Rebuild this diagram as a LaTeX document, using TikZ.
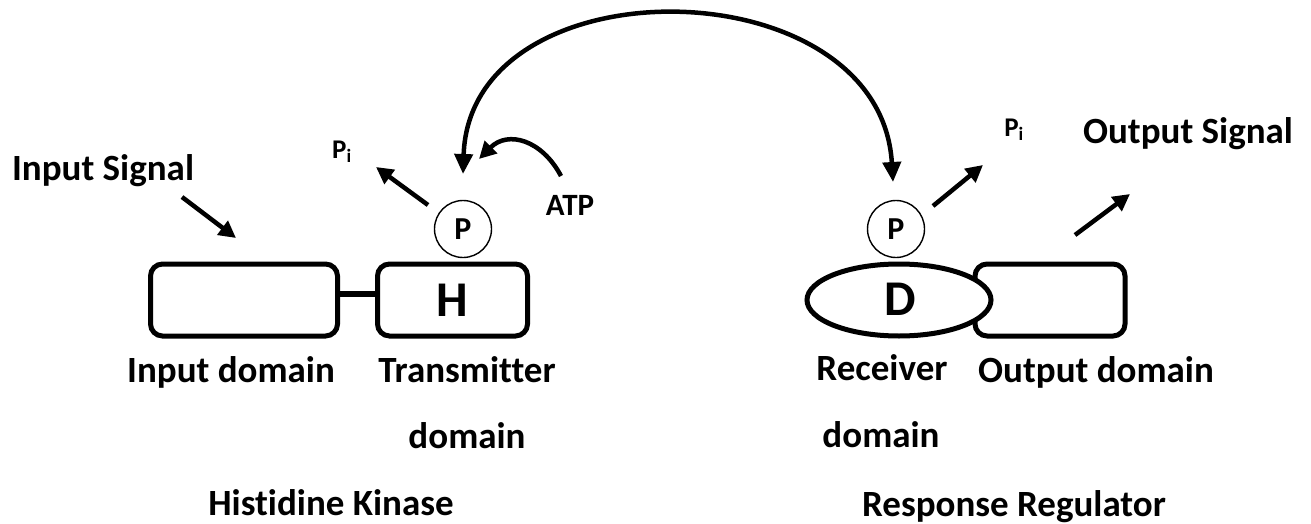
\documentclass[tikz,border=0pt]{standalone}
\usepackage{fontspec}
\setmainfont[Ligatures=NoCommon]{Carlito}
\usetikzlibrary{arrows.meta,shapes.geometric}
\begin{document}
\begin{tikzpicture}[x=1pt,y=-1pt,
  lbl/.style={font=\fontsize{37}{40}\selectfont\bfseries, inner sep=0pt, anchor=base},
  small/.style={font=\fontsize{#1}{#1}\selectfont\bfseries, inner sep=0pt, anchor=base},
  domainbox/.style={draw, line width=5pt, rounded corners=12pt, fill=white,
                    minimum width=#1, minimum height=72pt, inner sep=0pt},
  phos/.style={draw, circle, line width=1.4pt, fill=white, minimum size=57pt, inner sep=0pt,
               font=\fontsize{32}{32}\selectfont\bfseries},
  sig/.style={line width=4.5pt, -{Triangle[length=17pt,width=17pt]}},
  transfer/.style={line width=4.5pt, {Triangle[length=20pt,width=18pt]}-{Triangle[length=20pt,width=18pt]}},
]
\useasboundingbox (0,0) rectangle (1311,524);

% ---- histidine kinase ----
\node[domainbox=187pt] (inbox) at (244,300) {};
\node[domainbox=150pt] (txbox) at (452.5,300) {};
\node[small=50, anchor=base] (hres) at (452,316) {H};
\draw[line width=6pt] (inbox.east |- 0,293.5) coordinate (lnkA) -- (txbox.west |- 0,293.5) coordinate (lnkB);
\node[phos] (pH) at (463,229) {P};

% ---- response regulator ----
\node[domainbox=150pt] (outbox) at (1050,300) {};
\node[draw, ellipse, line width=5pt, fill=white, minimum width=184pt, minimum height=72pt,
      inner sep=0pt] (recv) at (899,300) {};
\node[small=50, anchor=base] (dres) at (900,315) {D};
\node[phos] (pD) at (896,229) {P};

% ---- text labels ----
\node[lbl] (insig) at (103,180) {Input Signal};
\node[lbl] (outsig) at (1188,143) {Output Signal};
\node[lbl] (indom) at (231,382) {Input domain};
\node[lbl] (txdom1) at (467,382) {Transmitter};
\node[lbl] (txdom2) at (467,448) {domain};
\node[lbl] (rcdom1) at (882,380) {Receiver};
\node[lbl] (rcdom2) at (881,447) {domain};
\node[lbl] (outdom) at (1096,382) {Output domain};
\node[lbl] (hk) at (331,515) {Histidine Kinase};
\node[lbl] (rr) at (1014,516) {Response Regulator};
\node[small=31] (atp) at (570,215) {ATP};
\node[small=27] (piH) at (342,158) {P\textsubscript{i}};
\node[small=27] (piD) at (1014,136) {P\textsubscript{i}};

% ---- free arrow ends ----
\coordinate (inA) at (182,197);   \coordinate (inB) at (236,238);
\coordinate (outA) at (1075,235); \coordinate (outB) at (1130,194);
\coordinate (piHA) at (428,205);  \coordinate (piHB) at (376,167);
\coordinate (piDA) at (933,206);  \coordinate (piDB) at (983,165);
\coordinate (atpA) at (561,176);  \coordinate (atpB) at (479,159);
\coordinate (trA) at (463,174);   \coordinate (trB) at (893,182);

% ---- arrows ----
\draw[sig] (inA) -- (inB);
\draw[sig] (outA) -- (outB);
\draw[sig] (piHA) -- (piHB);
\draw[sig] (piDA) -- (piDB);
\draw[sig] (atpA) .. controls (542,140) and (508,130) .. (atpB);
\draw[transfer] (trA) .. controls (470,-40) and (880,-35) .. (trB);
\end{tikzpicture}
\end{document}
